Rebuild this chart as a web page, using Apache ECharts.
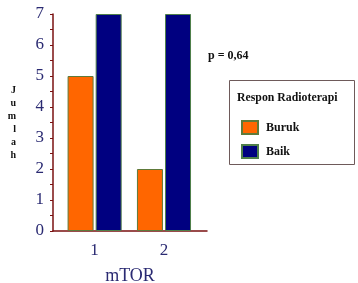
<!DOCTYPE html>
<html><head><meta charset="utf-8">
<script src="https://cdn.jsdelivr.net/npm/echarts@6/dist/echarts.min.js"></script>
<style>html,body{margin:0;padding:0;background:#fff}#c{width:358px;height:283px}</style>
</head><body><div id="c"></div>
<script>
const categories = [1, 2];
const buruk = [5, 2];
const baik = [7, 7];
const yTicks = [0, 1, 2, 3, 4, 5, 6, 7];
const seriesNames = ['Buruk', 'Baik'];

const chart = echarts.init(document.getElementById('c'));
const serif = 'Liberation Serif';
const labelColor = '#2a2a72';
const axisColor = '#7a1010';
chart.setOption({
  animation: false,
  grid: {left: 53, top: 14, width: 154, height: 217, outerBoundsMode: 'none', containLabel: false},
  xAxis: {
    type: 'value', min: 0.4, max: 2.62,
    splitLine: {show: false},
    axisLine: {show: true, lineStyle: {color: axisColor, width: 1.5}},
    axisTick: {show: false},
    axisLabel: {customValues: categories, color: labelColor, fontFamily: serif, fontSize: 17, margin: 11},
    name: 'mTOR', nameLocation: 'middle', nameGap: 36,
    nameTextStyle: {color: labelColor, fontFamily: serif, fontSize: 18}
  },
  yAxis: {
    type: 'value', min: yTicks[0], max: yTicks[yTicks.length - 1], interval: 1,
    splitLine: {show: false},
    axisLine: {show: true, lineStyle: {color: axisColor, width: 1.5}},
    axisTick: {show: true, length: 3, lineStyle: {color: axisColor}},
    minorTick: {show: true, splitNumber: 2, length: 3, lineStyle: {color: axisColor}},
    axisLabel: {color: labelColor, fontFamily: serif, fontSize: 17, margin: 9},
    name: 'J\nu\nm\nl\na\nh', nameLocation: 'middle', nameRotate: 0, nameGap: 37,
    nameTextStyle: {color: '#111', fontFamily: serif, fontSize: 10, fontWeight: 'bold', lineHeight: 13}
  },
  legend: {
    orient: 'vertical', left: 236, top: 115, itemWidth: 16, itemHeight: 13, itemGap: 9,
    icon: 'rect',
    textStyle: {fontFamily: serif, fontSize: 12, fontWeight: 'bold', color: '#111', padding: [0, 0, 0, 3]},
    data: seriesNames
  },
  graphic: [
    {type: 'rect', shape: {x: 229.5, y: 80.5, width: 125, height: 84}, style: {fill: 'none', stroke: '#6e5a5a', lineWidth: 1}},
    {type: 'text', left: 237, top: 92, style: {text: 'Respon Radioterapi', font: 'bold 11.8px "Liberation Serif"', fill: '#111'}},
    {type: 'text', left: 208, top: 50, style: {text: 'p = 0,64', font: 'bold 12px "Liberation Serif"', fill: '#111'}}
  ],
  series: [
    {name: seriesNames[0], type: 'bar', barWidth: 26, barGap: '8%',
     itemStyle: {color: '#ff6600', borderColor: '#5e7a3a', borderWidth: 1},
     data: categories.map((c, i) => [c, buruk[i]])},
    {name: seriesNames[1], type: 'bar', barWidth: 26, barGap: '8%',
     itemStyle: {color: '#000080', borderColor: '#4f7f4a', borderWidth: 1},
     data: categories.map((c, i) => [c, baik[i]])}
  ]
});
</script></body></html>
